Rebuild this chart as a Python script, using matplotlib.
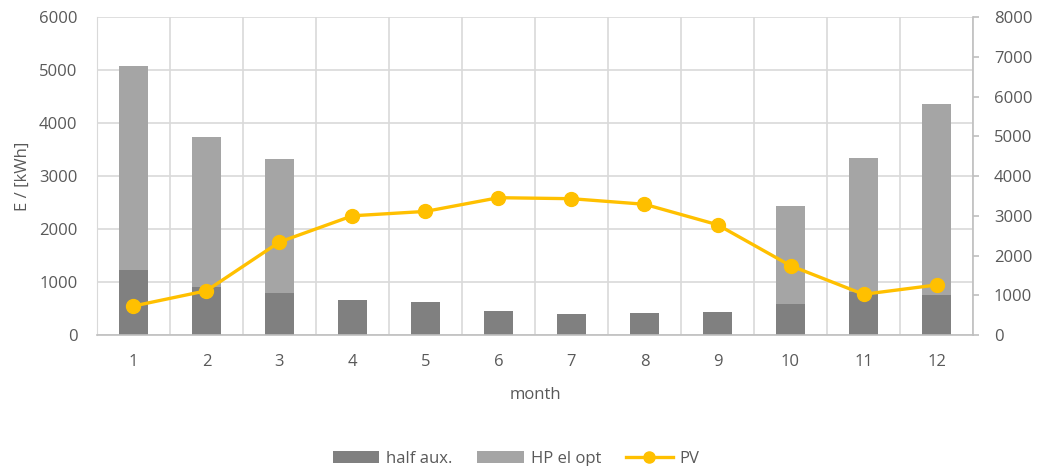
import matplotlib.pyplot as plt
import numpy as np

plt.rcParams['font.family'] = ['Open Sans', 'DejaVu Sans']

months = [1, 2, 3, 4, 5, 6, 7, 8, 9, 10, 11, 12]
half_aux = [1230, 905, 785, 660, 625, 455, 400, 410, 435, 590, 810, 760]
hp_total = [5075, 3735, 3320, 0, 0, 0, 0, 0, 0, 2435, 3345, 4355]
pv = [730, 1115, 2340, 3000, 3110, 3455, 3430, 3290, 2775, 1745, 1025, 1260]

# upper segment = total minus lower one (0 for summer months)
hp_el_opt = [max(t - a, 0) for t, a in zip(hp_total, half_aux)]

text_col = '#595959'
grid_col = '#d9d9d9'
fs = 12

fig = plt.figure(figsize=(10.38, 4.66), dpi=100)
ax = fig.add_axes([0.0934, 0.281, 0.844, 0.6825])

x = np.array(months)
b1 = ax.bar(x, half_aux, width=0.4, color='#808080', label='half aux.', zorder=2)
b2 = ax.bar(x, hp_el_opt, width=0.4, bottom=half_aux, color='#a5a5a5',
            label='HP el opt', zorder=2)

ax.set_xlim(0.5, 12.5)
ax.set_ylim(0, 6000)
ax.set_yticks(range(0, 6001, 1000))
ax.set_xticks(months)
ax.set_xticks(np.arange(0.5, 13, 1), minor=True)
ax.grid(axis='y', color=grid_col, linewidth=1.2, zorder=0)
ax.grid(axis='x', which='minor', color=grid_col, linewidth=1.2, zorder=0)
ax.tick_params(axis='x', which='both', length=0, colors=text_col, labelsize=fs, pad=14)
ax.tick_params(axis='y', length=0, colors=text_col, labelsize=fs, pad=14)
for s in ['top', 'right']:
    ax.spines[s].set_visible(False)
ax.spines['left'].set_color(grid_col)
ax.spines['bottom'].set_color('#bfbfbf')
ax.spines['bottom'].set_linewidth(1.2)
ax.set_xlabel('month', color=text_col, fontsize=fs, labelpad=12)
ax.set_ylabel('E / [kWh]', color=text_col, fontsize=fs, labelpad=6)

ax2 = ax.twinx()
line, = ax2.plot(x, pv, color='#ffc000', linewidth=2.4, marker='o',
                 markersize=10, label='PV', zorder=3)
ax2.set_ylim(0, 8000)
ax2.set_yticks(range(0, 8001, 1000))
ax2.tick_params(axis='y', length=4, width=1.2, color='#bfbfbf',
                labelcolor=text_col, labelsize=fs, pad=11)
for s in ['top', 'left', 'bottom']:
    ax2.spines[s].set_visible(False)
ax2.spines['right'].set_color('#bfbfbf')
ax2.spines['right'].set_linewidth(1.2)

leg = fig.legend([b1, b2, line], ['half aux.', 'HP el opt', 'PV'],
                 loc='center', bbox_to_anchor=(0.497, 0.016), ncol=3,
                 frameon=False, fontsize=fs, handlelength=2.8,
                 columnspacing=1.5, handletextpad=0.4, markerscale=0.8)
for t in leg.get_texts():
    t.set_color(text_col)

fig.savefig('out.png', dpi=100)
